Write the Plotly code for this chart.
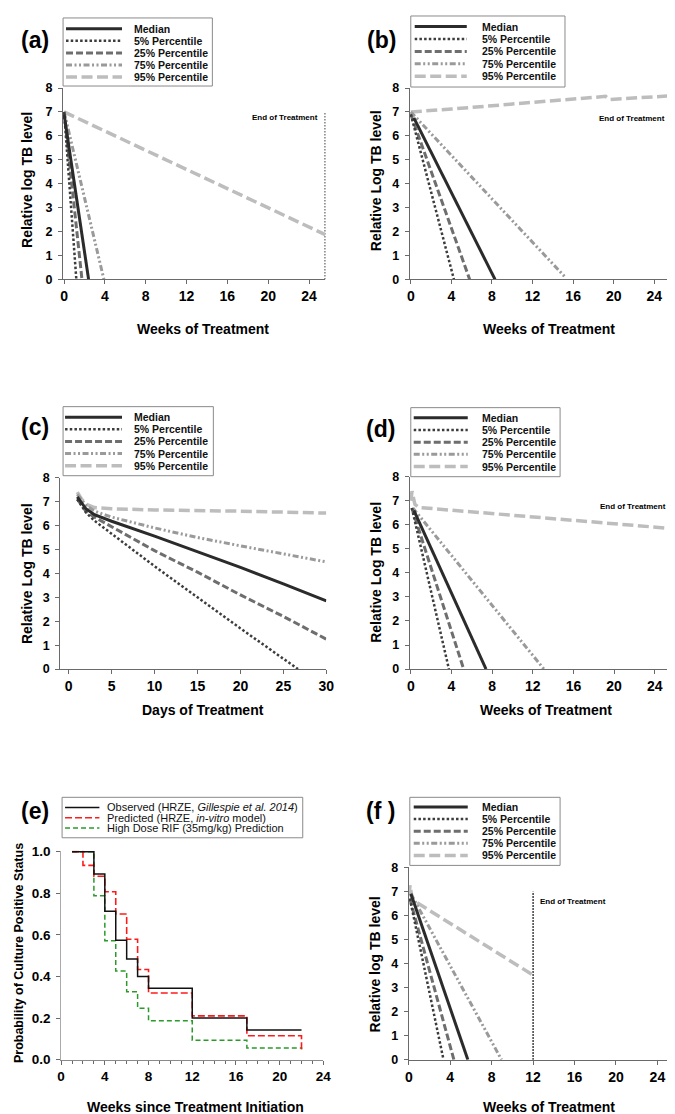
import plotly.graph_objects as go

W, H = 675, 1114
FONT = "Arial, Liberation Sans, sans-serif"

# ---------------- data ----------------
series_names = ["Median", "5% Percentile", "25% Percentile", "75% Percentile", "95% Percentile"]

# (a) weeks of treatment
a_median_x = [0, 2.4]
a_median_y = [6.9, 0]
a_p5_x = [0, 1.2]
a_p5_y = [7.0, 0]
a_p25_x = [0, 1.75]
a_p25_y = [7.0, 0]
a_p75_x = [0, 3.9]
a_p75_y = [7.0, 0]
a_p95_x = [0, 25.6]
a_p95_y = [7.0, 1.87]
a_end = 25.6

# (b) weeks of treatment
b_median_x = [0.3, 8.3]
b_median_y = [6.75, 0]
b_p5_x = [0, 4.25]
b_p5_y = [6.9, 0]
b_p25_x = [0, 5.8]
b_p25_y = [6.9, 0]
b_p75_x = [0, 15.2]
b_p75_y = [7.0, 0.1]
b_p95_x = [0, 4, 19.2, 19.6, 26]
b_p95_y = [7.0, 7.12, 7.65, 7.52, 7.68]
b_end = 25.7

# (c) days of treatment
c_median_x = [1, 2, 3, 5, 10, 15, 20, 25, 30]
c_median_y = [7.2, 6.7, 6.45, 6.18, 5.56, 4.91, 4.25, 3.56, 2.85]
c_p5_x = [1, 2, 3, 5, 10, 15, 20, 26.7]
c_p5_y = [7.1, 6.55, 6.2, 5.65, 4.3, 3.0, 1.7, 0]
c_p25_x = [1, 2, 3, 5, 10, 15, 20, 25, 30]
c_p25_y = [7.1, 6.6, 6.35, 5.95, 4.95, 4.05, 3.1, 2.2, 1.25]
c_p75_x = [1, 2, 3, 5, 10, 15, 20, 25, 30]
c_p75_y = [7.3, 6.85, 6.6, 6.35, 5.9, 5.5, 5.15, 4.8, 4.48]
c_p95_x = [1, 1.5, 2, 3, 5, 10, 20, 30]
c_p95_y = [7.4, 7.1, 6.9, 6.75, 6.7, 6.65, 6.6, 6.52]

# (d) weeks of treatment
d_median_x = [0.3, 7.4]
d_median_y = [6.6, 0]
d_p5_x = [0.1, 3.75]
d_p5_y = [6.7, 0]
d_p25_x = [0.1, 5.2]
d_p25_y = [6.7, 0]
d_p75_x = [0.2, 13.1]
d_p75_y = [6.7, 0]
d_p95_x = [0, 0.12, 0.4, 0.8, 25.8]
d_p95_y = [7.0, 7.4, 6.85, 6.72, 5.84]
d_end = 25.8

# (e) Kaplan-Meier style curves
obs_x = [1, 3, 4, 5, 6, 7, 8, 12, 17, 22]
obs_y = [1.0, 0.893, 0.714, 0.574, 0.484, 0.40, 0.344, 0.20, 0.143, 0.143]
pred_x = [1, 2, 3, 4, 5, 6, 7, 8, 12, 17, 22]
pred_y = [1.0, 0.934, 0.882, 0.807, 0.70, 0.579, 0.434, 0.321, 0.211, 0.115, 0.05]
hd_x = [1, 3, 4, 5, 6, 7, 8, 12, 17, 22]
hd_y = [1.0, 0.788, 0.572, 0.426, 0.327, 0.248, 0.187, 0.094, 0.057, 0.05]
e_names = ["Observed (HRZE, <i>Gillespie et al. 2014</i>)",
           "Predicted (HRZE, <i>in-vitro</i> model)",
           "High Dose RIF (35mg/kg) Prediction"]

# (f) weeks of treatment
f_median_x = [0.2, 5.7]
f_median_y = [6.9, 0]
f_p5_x = [0.1, 3.35]
f_p5_y = [6.7, 0]
f_p25_x = [0.1, 4.35]
f_p25_y = [6.7, 0]
f_p75_x = [0.2, 8.95]
f_p75_y = [6.9, 0]
f_p95_x = [0, 0.12, 0.35, 12]
f_p95_y = [6.8, 7.25, 6.65, 3.52]
f_end = 12

# ---------------- styles ----------------
styles = [
    dict(color="#2b2b2b", width=3, dash="solid"),
    dict(color="#3c3c3c", width=2.5, dash="2.5px,2.2px"),
    dict(color="#6e6e6e", width=3, dash="7px,3px"),
    dict(color="#9a9a9a", width=3, dash="6px,2.5px,2px,2.5px,2px,2.5px"),
    dict(color="#bdbdbd", width=3.5, dash="11px,4.5px"),
]
e_styles = [
    dict(color="#111111", width=1.5, dash="solid"),
    dict(color="#ff1a1a", width=1.6, dash="7px,3px"),
    dict(color="#2a9a2a", width=1.5, dash="5px,3px"),
]


def px(x):
    return x / W


def py(y):
    return 1 - y / H


fig = go.Figure()

percentile_panels = [
    # axis id, data, end of treatment
    (1, [(a_median_x, a_median_y), (a_p5_x, a_p5_y), (a_p25_x, a_p25_y), (a_p75_x, a_p75_y), (a_p95_x, a_p95_y)], a_end),
    (2, [(b_median_x, b_median_y), (b_p5_x, b_p5_y), (b_p25_x, b_p25_y), (b_p75_x, b_p75_y), (b_p95_x, b_p95_y)], b_end),
    (3, [(c_median_x, c_median_y), (c_p5_x, c_p5_y), (c_p25_x, c_p25_y), (c_p75_x, c_p75_y), (c_p95_x, c_p95_y)], None),
    (4, [(d_median_x, d_median_y), (d_p5_x, d_p5_y), (d_p25_x, d_p25_y), (d_p75_x, d_p75_y), (d_p95_x, d_p95_y)], d_end),
    (6, [(f_median_x, f_median_y), (f_p5_x, f_p5_y), (f_p25_x, f_p25_y), (f_p75_x, f_p75_y), (f_p95_x, f_p95_y)], f_end),
]

for n, data, end in percentile_panels:
    xa = "x" if n == 1 else f"x{n}"
    ya = "y" if n == 1 else f"y{n}"
    if end is not None:
        fig.add_trace(go.Scatter(x=[end, end], y=[0, 7], mode="lines", xaxis=xa, yaxis=ya,
                                 line=dict(color="black", width=1.5, dash="1.5px,1.5px"),
                                 showlegend=False, hoverinfo="skip"))
    # draw the light lines first so the dark ones sit on top
    for i in [4, 3, 2, 1, 0]:
        xs, ys = data[i]
        fig.add_trace(go.Scatter(x=xs, y=ys, mode="lines", xaxis=xa, yaxis=ya, name=series_names[i],
                                 line=dict(**styles[i]), showlegend=False))

for (xs, ys), st, nm in zip([(hd_x, hd_y), (pred_x, pred_y), (obs_x, obs_y)],
                            [e_styles[2], e_styles[1], e_styles[0]],
                            [e_names[2], e_names[1], e_names[0]]):
    fig.add_trace(go.Scatter(x=xs, y=ys, mode="lines", line_shape="hv", xaxis="x5", yaxis="y5",
                             name=nm, line=dict(**st), showlegend=False))

# ---------------- axes ----------------
axis_common = dict(showgrid=False, zeroline=False, showline=True, linecolor="#6a6a6a", linewidth=1,
                   ticks="outside", ticklen=4, tickcolor="#6a6a6a")

# pixel boxes: (x0, x1, ytop, ybottom), x range, y range, x dtick
panels_geom = {
    1: ((52, 319, 74, 268), [-0.1, 25.6], [0, 8], 4),
    2: ((405, 672, 74, 268), [-0.1, 25.75], [0, 8], 4),
    3: ((49, 320, 469, 663), [-1, 30], [0, 8], 5),
    4: ((405, 674, 468, 663), [-0.1, 25.9], [0, 8], 4),
    5: ((50, 317, 847, 1059), [0, 24], [0, 1.005], 4),
    6: ((404, 675, 864, 1059), [0, 25.7], [0, 8], 4),
}

layout_axes = {}
for n, ((x0, x1, yt, yb), xr, yr, xd) in panels_geom.items():
    xk = "xaxis" if n == 1 else f"xaxis{n}"
    yk = "yaxis" if n == 1 else f"yaxis{n}"
    ya = "y" if n == 1 else f"y{n}"
    xa = "x" if n == 1 else f"x{n}"
    xaxis = dict(axis_common, domain=[px(x0), px(x1)], range=xr, anchor=ya, dtick=xd, tick0=0,
                 tickfont=dict(family=FONT, size=14, color="black", weight="bold"))
    yaxis = dict(axis_common, domain=[py(yb), py(yt)], range=yr, anchor=xa, dtick=1, tick0=0,
                 ticklabelstandoff=3,
                 tickfont=dict(family=FONT, size=12.5, color="black", weight="bold"))
    if n == 5:
        xaxis["minor"] = dict(dtick=1, ticks="outside", ticklen=3, tickcolor="#6a6a6a")
        xaxis["tickfont"]["size"] = 13.5
        yaxis.update(dtick=0.2, tickformat=".1f", linecolor="#aaaaaa")
        yaxis["tickfont"]["size"] = 13.5
        xaxis["linecolor"] = "#8a8a8a"
    layout_axes[xk] = xaxis
    layout_axes[yk] = yaxis

fig.update_layout(**layout_axes)

# ---------------- text ----------------
def note(text, x, y, size, angle=0, weight=True, **kw):
    fig.add_annotation(text=f"<b>{text}</b>" if weight else text, x=px(x), y=py(y), xref="paper", yref="paper",
                       showarrow=False, textangle=angle, font=dict(family=FONT, size=size, color="black"),
                       xanchor=kw.get("xanchor", "center"), yanchor="middle")


# panel letters
for lab, x, y in [("(a)", 7, 25), ("(b)", 359, 25), ("(c)", 7, 418), ("(d)", 358, 420), ("(e)", 7, 807), ("(f )", 358, 807)]:
    note(lab, x, y, 23, xanchor="left")

# axis titles
for txt, x, y in [("Weeks of Treatment", 194, 318), ("Weeks of Treatment", 547, 318),
                  ("Days of Treatment", 194, 704), ("Weeks of Treatment", 544, 704),
                  ("Weeks since Treatment Initiation", 187, 1107), ("Weeks of Treatment", 547, 1107)]:
    note(txt, x, y, 14)

for txt, x, y in [("Relative log TB level", 15.5, 167), ("Relative Log TB level", 370, 168),
                  ("Relative Log TB level", 16, 566), ("Relative Log TB level", 371, 565),
                  ("Relative log TB level", 370, 962)]:
    note(txt, x, y, 14, angle=-90)
note("Probability of Culture Positive Status", 7, 951, 12.5, angle=-90)

# end of treatment labels
for n, end, yv, side in [(1, a_end, 6.76, "right"), (2, b_end, 6.74, "right"), (4, d_end, 6.77, "right"), (6, f_end, 6.56, "left")]:
    xa = "x" if n == 1 else f"x{n}"
    ya = "y" if n == 1 else f"y{n}"
    fig.add_annotation(text="<b>End of Treatment</b>", x=end, y=yv, xref=xa, yref=ya, showarrow=False,
                       xanchor=side, xshift=-5 if side == "right" else 5,
                       font=dict(family=FONT, size=8, color="black"))


# ---------------- legends (drawn boxes) ----------------
def draw_legend(box, sx0, sx1, tx, y_first, step, names, stys, fsize, bold):
    x0, y0, x1, y1 = box
    fig.add_shape(type="rect", xref="paper", yref="paper", x0=px(x0), x1=px(x1), y0=py(y1), y1=py(y0),
                  line=dict(color="#8a8a8a", width=1), fillcolor="white", layer="above")
    for i, (nm, st) in enumerate(zip(names, stys)):
        yy = py(y_first + i * step)
        fig.add_shape(type="line", xref="paper", yref="paper", x0=px(sx0), x1=px(sx1), y0=yy, y1=yy,
                      line=dict(color=st["color"], width=st["width"], dash=st["dash"]))
        fig.add_annotation(text=f"<b>{nm}</b>" if bold else nm, x=px(tx), y=yy, xref="paper", yref="paper",
                           showarrow=False, xanchor="left", yanchor="middle",
                           font=dict(family=FONT, size=fsize, color="#111111"))


draw_legend((52, 3, 204, 72), 55, 112, 122, 14, 12.2, series_names, styles, 10.5, True)
draw_legend((406, 1, 563, 73), 410, 463, 476, 11.7, 12.6, series_names, styles, 10.5, True)
draw_legend((52, 397, 205, 467), 54, 112, 122, 407.7, 12.3, series_names, styles, 10.5, True)
draw_legend((406, 398, 558, 468), 409, 464, 476, 408.3, 12.35, series_names, styles, 10.5, True)
draw_legend((405, 793, 558, 862), 409, 464, 476, 802.7, 12.3, series_names, styles, 10.5, True)
draw_legend((51, 793, 296, 834), 54, 89, 95, 803.3, 10.35, e_names, e_styles, 11, False)

fig.update_layout(width=W, height=H, margin=dict(l=0, r=0, t=0, b=0),
                  plot_bgcolor="white", paper_bgcolor="white", showlegend=False,
                  font=dict(family=FONT, color="black"))

fig.write_html("out.html")
